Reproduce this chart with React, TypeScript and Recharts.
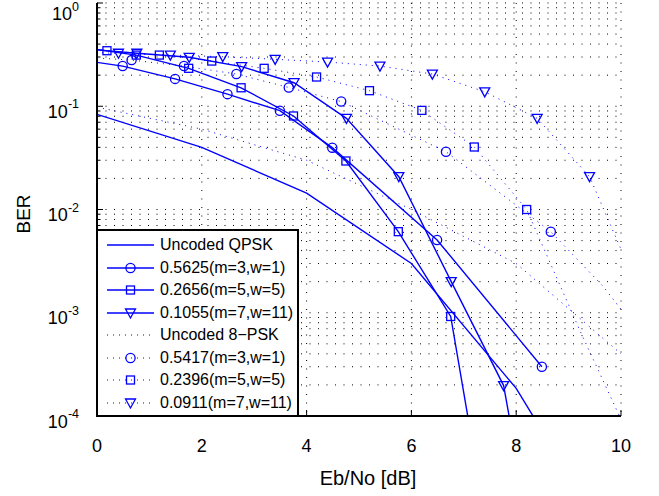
import React from "react";
import { CartesianGrid, Legend, Line, LineChart, XAxis, YAxis } from "recharts";

const BLUE = "#0000ff";
const FONT = '"Liberation Sans", Arial, Helvetica, sans-serif';

const W = 659;
const H = 496;
const M = { top: 3, right: 38, bottom: 0, left: 37 };
const Y_AXIS_W = 60;
const X_AXIS_H = 80;
const LEFT = M.left + Y_AXIS_W;
const RIGHT = W - M.right;
const TOP = M.top;
const BOTTOM = H - M.bottom - X_AXIS_H;

// axis ticks
const xTicks = [0, 2, 4, 6, 8, 10];
const yDecades = [1e-4, 1e-3, 1e-2, 1e-1, 1];
const yMinorSteps = [2, 3, 4, 5, 6, 7, 8, 9];
const yTicks = [
  ...yDecades,
  ...yDecades.slice(0, -1).flatMap((d) => yMinorSteps.map((s) => s * d)),
].sort((a, b) => a - b);

// Uncoded QPSK
const qpskX = [0, 2, 4, 6, 8, 10];
const qpskBer = [0.0835, 0.04, 0.0144, 0.003, 1.85e-4, 4e-6];

// 0.5625(m=3,w=1)
const q3X = [-0.51, 0.49, 1.49, 2.49, 3.49, 4.49, 6.49, 8.49];
const q3Ber = [0.29, 0.245, 0.184, 0.131, 0.0906, 0.0397, 0.00507, 3.0e-4];
const q3Mark = [0, 1, 1, 1, 1, 1, 1, 1];

// 0.2656(m=5,w=5)
const q5X = [-0.25, 0.75, 1.75, 2.75, 3.75, 4.75, 5.75, 6.75, 7.75];
const q5Ber = [0.37, 0.313, 0.233, 0.151, 0.0805, 0.0295, 0.0061, 9.2e-4, 1e-6];
const q5Mark = [0, 1, 1, 1, 1, 1, 1, 1, 0];

// 0.1055(m=7,w=11)
const q7X = [-0.24, 0.76, 1.76, 2.76, 3.76, 4.76, 5.76, 6.76, 7.76, 8.76];
const q7Ber = [0.36, 0.326, 0.298, 0.242, 0.169, 0.0764, 0.0208, 0.002, 1.97e-4, 3e-7];
const q7Mark = [0, 1, 1, 1, 1, 1, 1, 1, 1, 0];

// Uncoded 8-PSK
const psk8X = [0, 2, 4, 6, 8, 10];
const psk8Ber = [0.098, 0.06, 0.03, 0.01, 0.003, 4e-4];

// 0.5417(m=3,w=1)
const p3X = [-0.34, 0.66, 1.66, 2.66, 3.66, 4.66, 6.66, 8.66, 9.66, 10.66];
const p3Ber = [0.3, 0.28, 0.245, 0.205, 0.152, 0.111, 0.0363, 0.0061, 0.0018, 4e-4];
const p3Mark = [0, 1, 1, 1, 1, 1, 1, 1, 0, 0];

// 0.2396(m=5,w=5)
const p5X = [-0.81, 0.19, 1.19, 2.19, 3.19, 4.19, 5.2, 6.2, 7.2, 8.2, 9.2, 10.2];
const p5Ber = [0.36, 0.345, 0.313, 0.274, 0.233, 0.192, 0.1415, 0.0912, 0.0403, 0.01, 7e-4, 5.6e-5];
const p5Mark = [0, 1, 1, 1, 1, 1, 1, 1, 1, 1, 0, 0];

// 0.0911(m=7,w=11)
const p7X = [-0.59, 0.41, 1.4, 2.4, 3.4, 4.4, 5.4, 6.4, 7.4, 8.4, 9.4, 10.4];
const p7Ber = [0.335, 0.326, 0.313, 0.302, 0.285, 0.268, 0.245, 0.205, 0.138, 0.0764, 0.0208, 0.0014];
const p7Mark = [0, 1, 1, 1, 1, 1, 1, 1, 1, 1, 1, 0];

type Marker = "none" | "circle" | "square" | "triangle";

interface Series {
  name: string;
  x: number[];
  y: number[];
  mark?: number[];
  marker: Marker;
  dotted: boolean;
}

const series: Series[] = [
  { name: "Uncoded QPSK", x: qpskX, y: qpskBer, marker: "none", dotted: false },
  { name: "0.5625(m=3,w=1)", x: q3X, y: q3Ber, mark: q3Mark, marker: "circle", dotted: false },
  { name: "0.2656(m=5,w=5)", x: q5X, y: q5Ber, mark: q5Mark, marker: "square", dotted: false },
  { name: "0.1055(m=7,w=11)", x: q7X, y: q7Ber, mark: q7Mark, marker: "triangle", dotted: false },
  { name: "Uncoded 8\u2212PSK", x: psk8X, y: psk8Ber, marker: "none", dotted: true },
  { name: "0.5417(m=3,w=1)", x: p3X, y: p3Ber, mark: p3Mark, marker: "circle", dotted: true },
  { name: "0.2396(m=5,w=5)", x: p5X, y: p5Ber, mark: p5Mark, marker: "square", dotted: true },
  { name: "0.0911(m=7,w=11)", x: p7X, y: p7Ber, mark: p7Mark, marker: "triangle", dotted: true },
];

const toRows = (s: Series) =>
  s.x.map((x, i) => ({ x, y: s.y[i], m: s.mark ? s.mark[i] === 1 : false }));

function MarkerShape({ kind, cx, cy }: { kind: Marker; cx: number; cy: number }) {
  const st = { fill: "none", stroke: BLUE, strokeWidth: 1.3 };
  if (kind === "circle") return <circle cx={cx} cy={cy} r={4.6} {...st} />;
  if (kind === "square") return <rect x={cx - 4} y={cy - 4} width={8} height={8} {...st} />;
  if (kind === "triangle")
    return <polygon points={`${cx - 5},${cy - 4} ${cx + 5},${cy - 4} ${cx},${cy + 5}`} {...st} />;
  return null;
}

const isMajor = (v: number) => {
  const l = Math.log10(v);
  return Math.abs(l - Math.round(l)) < 1e-6;
};

const YTickLeft = (p: any) => {
  const v = p.payload.value;
  const y = p.y;
  const major = isMajor(v);
  // keep the top label's exponent inside the picture
  const base = Math.max(y + 11.5, 20);
  return (
    <g>
      <line x1={LEFT} x2={LEFT + (major ? 6 : 3.5)} y1={y} y2={y} stroke="#000" strokeWidth={1} />
      {major && (
        <text x={79} y={base} textAnchor="end" fontSize={18} fontFamily={FONT} fill="#000">
          10
          <tspan dy={-9.5} fontSize={12.5}>
            {String(Math.round(Math.log10(v)))}
          </tspan>
        </text>
      )}
    </g>
  );
};

const YTickRight = (p: any) => {
  const major = isMajor(p.payload.value);
  return (
    <line x1={RIGHT} x2={RIGHT - (major ? 6 : 3.5)} y1={p.y} y2={p.y} stroke="#000" strokeWidth={1} />
  );
};

const XTickBottom = (p: any) => (
  <g>
    <line x1={p.x} x2={p.x} y1={BOTTOM} y2={BOTTOM - 6} stroke="#000" strokeWidth={1} />
    <text x={p.x} y={BOTTOM + 36} textAnchor="middle" fontSize={18} fontFamily={FONT} fill="#000">
      {p.payload.value}
    </text>
  </g>
);

const XTickTop = (p: any) => (
  <line x1={p.x} x2={p.x} y1={TOP} y2={TOP + 6} stroke="#000" strokeWidth={1} />
);

const LegendBox = () => (
  <div
    style={{
      border: "2px solid #000",
      background: "#fff",
      width: 203,
      height: 188,
      boxSizing: "border-box",
      paddingTop: 3,
      fontFamily: FONT,
      fontSize: 16,
      color: "#000",
    }}
  >
    {series.map((s) => (
      <div key={s.name} style={{ display: "flex", alignItems: "center", height: 22.5 }}>
        <svg width={62} height={22} style={{ display: "block", flex: "none" }}>
          <line
            x1={9}
            x2={56}
            y1={11}
            y2={11}
            stroke={BLUE}
            strokeWidth={s.dotted ? 1 : 1.4}
            strokeDasharray={s.dotted ? "1 5" : undefined}
          />
          <MarkerShape kind={s.marker} cx={32.5} cy={11} />
        </svg>
        <span style={{ whiteSpace: "nowrap", lineHeight: "18px" }}>{s.name}</span>
      </div>
    ))}
  </div>
);

export default function App() {
  return (
    <div style={{ position: "absolute", left: 0, top: 0, width: W, height: H, background: "#fff" }}>
      <LineChart width={W} height={H} margin={M}>
        <CartesianGrid xAxisId="main" yAxisId="main" stroke="#000" strokeDasharray="1 7.5" strokeWidth={1} />
        <XAxis
          xAxisId="main"
          dataKey="x"
          type="number"
          domain={[0, 10]}
          ticks={xTicks}
          interval={0}
          allowDataOverflow
          height={X_AXIS_H}
          tickLine={false}
          axisLine={{ stroke: "#000", strokeWidth: 2 }}
          tick={XTickBottom}
          label={{
            content: () => (
              <text x={368} y={485} textAnchor="middle" fontSize={20} fontFamily={FONT} fill="#000">
                Eb/No [dB]
              </text>
            ),
          }}
        />
        <XAxis
          xAxisId="top"
          orientation="top"
          dataKey="x"
          type="number"
          domain={[0, 10]}
          ticks={xTicks}
          interval={0}
          height={0}
          tickLine={false}
          axisLine={{ stroke: "#000", strokeWidth: 2 }}
          tick={XTickTop}
        />
        <YAxis
          yAxisId="main"
          type="number"
          scale="log"
          domain={[1e-4, 1]}
          ticks={yTicks}
          interval={0}
          allowDataOverflow
          width={Y_AXIS_W}
          tickLine={false}
          axisLine={{ stroke: "#000", strokeWidth: 2 }}
          tick={YTickLeft}
          label={{
            content: () => (
              <text
                x={30}
                y={214}
                transform="rotate(-90 30 214)"
                textAnchor="middle"
                fontSize={19}
                fontFamily={FONT}
                fill="#000"
              >
                BER
              </text>
            ),
          }}
        />
        <YAxis
          yAxisId="right"
          orientation="right"
          type="number"
          scale="log"
          domain={[1e-4, 1]}
          ticks={yTicks}
          interval={0}
          allowDataOverflow
          width={0}
          tickLine={false}
          axisLine={{ stroke: "#000", strokeWidth: 2 }}
          tick={YTickRight}
        />
        {series.map((s) => (
          <Line
            key={s.name}
            xAxisId="main"
            yAxisId="main"
            data={toRows(s)}
            dataKey="y"
            type="linear"
            stroke={BLUE}
            strokeWidth={s.dotted ? 1 : 1.4}
            strokeDasharray={s.dotted ? "1 5" : undefined}
            dot={(p: any) => {
              const k = `${s.name}-${p.index}`;
              if (!p.payload?.m || s.marker === "none" || p.cx == null || p.cy == null)
                return <g key={k} />;
              return (
                <g key={k}>
                  <MarkerShape kind={s.marker} cx={p.cx} cy={p.cy} />
                </g>
              );
            }}
            activeDot={false}
            legendType="none"
            isAnimationActive={false}
          />
        ))}
        <Legend
          layout="vertical"
          align="center"
          verticalAlign="middle"
          wrapperStyle={{ left: LEFT - 1, top: 229, width: 203, height: 188 }}
          content={() => <LegendBox />}
        />
      </LineChart>
    </div>
  );
}
